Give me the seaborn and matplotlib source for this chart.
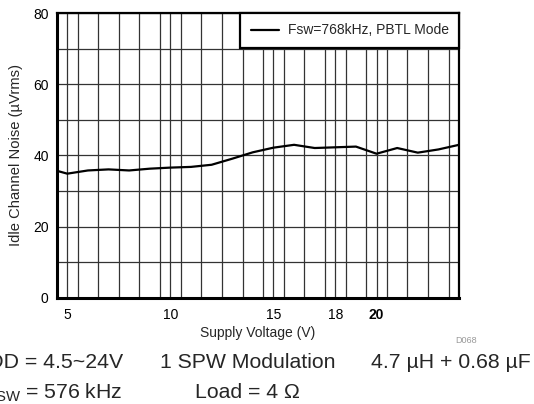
import numpy as np
import pandas as pd
import matplotlib
matplotlib.use("Agg")
import matplotlib.pyplot as plt
import seaborn as sns

sns.set_style("white")
plt.rcParams["font.family"] = ["Liberation Sans", "DejaVu Sans"]
plt.rcParams["mathtext.fontset"] = "custom"
plt.rcParams["mathtext.rm"] = "Liberation Sans"

# data
voltage = [4.5, 5, 6, 7, 8, 9, 10, 11, 12, 13, 14, 15, 16, 17, 18, 19, 20, 21, 22, 23, 24]
noise = [35.7, 34.9, 35.8, 36.1, 35.8, 36.3, 36.6, 36.8, 37.4, 39.1, 40.9, 42.2, 43.0,
         42.1, 42.3, 42.5, 40.5, 42.1, 40.8, 41.7, 43.0]
series_label = "Fsw=768kHz, PBTL Mode"
xtick_vals = [5, 10, 15, 18, 20]
ytick_vals = [0, 20, 40, 60, 80]

df = pd.DataFrame({"Supply Voltage (V)": voltage, "Noise": noise,
                   "series": series_label})

fig = plt.figure(figsize=(5.34, 4.04), dpi=100)
ax = fig.add_axes([0.1067, 0.2624, 0.7529, 0.7054])

sns.lineplot(data=df, x="Supply Voltage (V)", y="Noise", hue="series",
             palette=["black"], linewidth=1.6, ax=ax)

ax.set_xlim(4.5, 24)
ax.set_ylim(0, 80)
ax.set_xticks(xtick_vals)
ax.set_yticks(ytick_vals)
ax.set_xticks(np.arange(5.5, 24, 1.0), minor=True)
ax.set_yticks([10, 30, 50, 70], minor=True)
ax.grid(True, which="both", color="#333333", linewidth=0.9)
ax.tick_params(which="both", length=0, labelsize=10, colors="black")
ax.tick_params(axis="x", pad=7)
ax.tick_params(axis="y", pad=6)
for lbl in ax.get_xticklabels():
    if lbl.get_text() == "20":
        lbl.set_fontweight("bold")

for side in ["left", "bottom"]:
    ax.spines[side].set_linewidth(2.2)
for side in ["top", "right"]:
    ax.spines[side].set_linewidth(1.6)
for sp in ax.spines.values():
    sp.set_color("black")

ax.set_xlabel("Supply Voltage (V)", fontsize=10, labelpad=3)
ax.set_ylabel("Idle Channel Noise (µVrms)", fontsize=10.6, labelpad=7)

leg = ax.legend(loc="upper right", borderaxespad=0, fancybox=False,
                framealpha=1, edgecolor="black", fontsize=10, handlelength=2.0,
                borderpad=0.75, handletextpad=0.65)
leg.set_title(None)
leg.get_frame().set_linewidth(1.6)

fig.text(0.852, 0.158, "D068", fontsize=6.5, color="#999999", ha="left", va="center")

fs = 15.3
fig.text(0.230, 0.089, "PVDD = 4.5~24V", fontsize=fs, ha="right", va="baseline")
fig.text(0.2996, 0.089, "1 SPW Modulation", fontsize=fs, ha="left", va="baseline")
fig.text(0.6948, 0.089, "4.7 µH + 0.68 µF", fontsize=fs, ha="left", va="baseline")
fig.text(0.230, 0.015, r"F$_{\mathrm{SW}}$ = 576 kHz", fontsize=fs, ha="right", va="baseline")
fig.text(0.365, 0.015, "Load = 4 Ω", fontsize=fs, ha="left", va="baseline")

fig.savefig("out.png", dpi=100)
